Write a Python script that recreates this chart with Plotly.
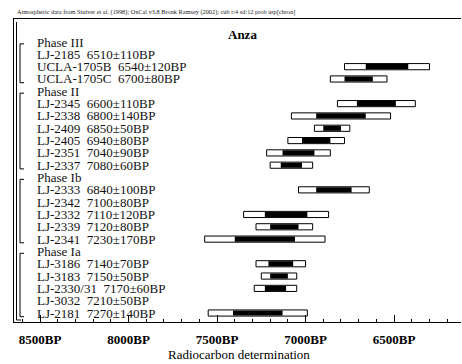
import plotly.graph_objects as go

# ---------------- data ----------------
phase_names = ["Phase III", "Phase II", "Phase Ib", "Phase Ia"]

sample_ids = ["LJ-2185", "UCLA-1705B", "UCLA-1705C",
              "LJ-2345", "LJ-2338", "LJ-2409", "LJ-2405", "LJ-2351", "LJ-2337",
              "LJ-2333", "LJ-2342", "LJ-2332", "LJ-2339", "LJ-2341",
              "LJ-3186", "LJ-3183", "LJ-2330/31", "LJ-3032", "LJ-2181"]
sample_bp = [6510, 6540, 6700,
             6600, 6800, 6850, 6940, 7040, 7080,
             6840, 7100, 7110, 7120, 7230,
             7140, 7150, 7170, 7210, 7270]
sample_sd = [110, 120, 80,
             110, 140, 50, 80, 90, 60,
             100, 80, 120, 80, 170,
             70, 50, 60, 50, 140]
sample_phase = [0, 0, 0,
                1, 1, 1, 1, 1, 1,
                2, 2, 2, 2, 2,
                3, 3, 3, 3, 3]
bar_drawn = [False, True, True,
             True, True, True, True, True, True,
             True, False, True, True, True,
             True, True, True, False, True]

tick_vals = [8500, 8000, 7500, 7000, 6500]
tick_text = ["8500BP", "8000BP", "7500BP", "7000BP", "6500BP"]

header = ("Atmospheric data from Stuiver et al. (1998); OxCal v3.8 Bronk Ramsey (2002); "
          "cub r:4 sd:12 prob usp[chron]")
title = "Anza"
x_title = "Radiocarbon determination"

# ---------------- layout of rows ----------------
SERIF = "Liberation Serif, Times New Roman, serif"
W, H = 462, 364
ML, MR, MT, MB = 14, 1, 19, 42
PW = W - ML - MR
PH = H - MT - MB


def px_x(p):
    return (p - ML) / PW


def px_y(p):
    return (H - MB - p) / PH


label_rows = []      # (row, text)
phase_rows = []      # row of each phase label
sample_rows = [None] * len(sample_ids)
phase_last = []
r = 0
for p, name in enumerate(phase_names):
    phase_rows.append(r)
    label_rows.append((r, name))
    r += 1
    for i in range(len(sample_ids)):
        if sample_phase[i] == p:
            sample_rows[i] = r
            label_rows.append((r, f"{sample_ids[i]}\u00a0\u00a0{sample_bp[i]}\u00b1{sample_sd[i]}BP"))
            r += 1
    phase_last.append(r - 1)

bi = [i for i in range(len(sample_ids)) if bar_drawn[i]]

fig = go.Figure()
# 2-sigma (white) boxes
fig.add_trace(go.Bar(
    orientation="h",
    y=[sample_rows[i] for i in bi],
    x=[4 * sample_sd[i] for i in bi],
    base=[sample_bp[i] - 2 * sample_sd[i] for i in bi],
    width=0.5,
    marker=dict(color="white", line=dict(color="black", width=1)),
    hoverinfo="skip",
))
# 1-sigma (black) boxes
fig.add_trace(go.Bar(
    orientation="h",
    y=[sample_rows[i] for i in bi],
    x=[2 * sample_sd[i] for i in bi],
    base=[sample_bp[i] - sample_sd[i] for i in bi],
    width=0.42,
    marker=dict(color="black", line=dict(color="black", width=0)),
    hoverinfo="skip",
))

annotations = []
for row, txt in label_rows:
    annotations.append(dict(
        x=px_x(35), xref="paper", y=row, yref="y",
        text=txt, showarrow=False, xanchor="left", yanchor="middle",
        font=dict(family=SERIF, size=13, color="#111"),
    ))
annotations.append(dict(
    x=px_x(15), xref="paper", y=px_y(12), yref="paper",
    text=header, showarrow=False, xanchor="left", yanchor="middle",
    font=dict(family=SERIF, size=6.3, color="#222"),
))
annotations.append(dict(
    x=px_x(243), xref="paper", y=px_y(34), yref="paper",
    text=f"<b>{title}</b>", showarrow=False, xanchor="center", yanchor="middle",
    font=dict(family=SERIF, size=13, color="black"),
))
annotations.append(dict(
    x=px_x(239), xref="paper", y=px_y(354), yref="paper",
    text=x_title, showarrow=False, xanchor="center", yanchor="middle",
    font=dict(family=SERIF, size=13, color="black"),
))

shapes = []
bx0, bx1 = px_x(20), px_x(24)
for p in range(len(phase_names)):
    top = phase_rows[p] + 0.15
    bot = phase_last[p] + 0.3
    line = dict(color="black", width=1)
    shapes.append(dict(type="line", xref="paper", yref="y", x0=bx0, x1=bx0, y0=top, y1=bot, line=line))
    shapes.append(dict(type="line", xref="paper", yref="y", x0=bx0, x1=bx1, y0=top, y1=top, line=line))
    shapes.append(dict(type="line", xref="paper", yref="y", x0=bx0, x1=bx1, y0=bot, y1=bot, line=line))
# outer sequence bracket
shapes.append(dict(type="line", xref="paper", yref="paper", x0=px_x(16.5), x1=px_x(16.5),
                   y0=px_y(22), y1=px_y(320), line=dict(color="black", width=1)))
shapes.append(dict(type="line", xref="paper", yref="paper", x0=px_x(16.5), x1=px_x(21),
                   y0=px_y(320), y1=px_y(320), line=dict(color="black", width=1)))

fig.update_layout(
    width=W, height=H,
    margin=dict(l=ML, r=MR, t=MT, b=MB),
    paper_bgcolor="white", plot_bgcolor="white",
    showlegend=False, barmode="overlay",
    annotations=annotations, shapes=shapes,
    xaxis=dict(
        range=[8647, 6122], showgrid=False, zeroline=False,
        showline=True, linecolor="black", linewidth=1, mirror=True,
        ticks="inside", ticklen=7, tickwidth=1, tickcolor="black",
        tickmode="array", tickvals=tick_vals, ticktext=tick_text,
        tickfont=dict(family=SERIF, size=13, color="black", weight="bold"),
        ticklabelstandoff=5,
        minor=dict(tickmode="linear", tick0=6000, dtick=100, ticks="inside",
                   ticklen=3, tickwidth=1, tickcolor="black", showgrid=False),
    ),
    yaxis=dict(
        range=[22.73, -1.87], showgrid=False, zeroline=False,
        showline=True, linecolor="black", linewidth=1, mirror=False,
        showticklabels=False, ticks="",
    ),
)

fig.write_html("out.html")
